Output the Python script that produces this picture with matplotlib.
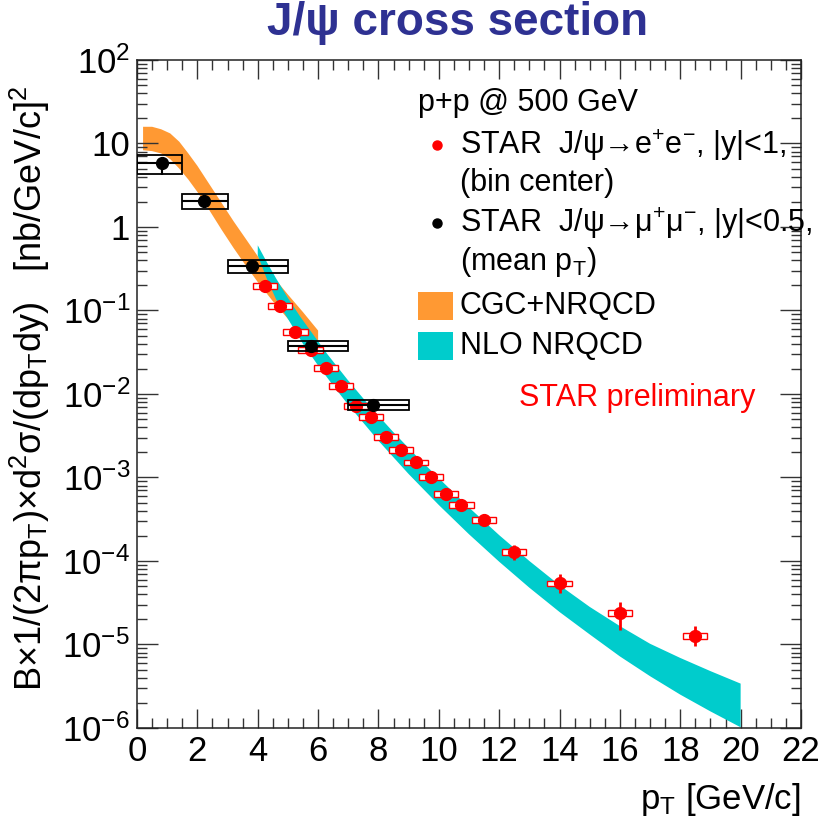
import numpy as np
import matplotlib
matplotlib.use("Agg")
import matplotlib.pyplot as plt
from matplotlib.patches import Rectangle
from matplotlib.ticker import MultipleLocator, LogLocator, NullFormatter, FixedLocator

plt.rcParams['font.family'] = ['Liberation Sans', 'DejaVu Sans']
plt.rcParams['mathtext.fontset'] = 'custom'
plt.rcParams['mathtext.rm'] = 'Liberation Sans'
plt.rcParams['mathtext.it'] = 'Liberation Sans:italic'
plt.rcParams['mathtext.bf'] = 'Liberation Sans:bold'
plt.rcParams['mathtext.default'] = 'rm'

# STAR J/psi -> e+e-, |y|<1 (bin center)
ee_pt = [4.25, 4.75, 5.25, 5.75, 6.25, 6.75, 7.25, 7.75, 8.25, 8.75, 9.25, 9.75,
         10.25, 10.75, 11.5, 12.5, 14.0, 16.0, 18.5]
ee_y = [0.198, 0.113, 0.0557, 0.0337, 0.0207, 0.0126, 0.00718, 0.00535, 0.00308,
        0.00213, 0.00152, 0.00102, 6.3e-4, 4.7e-4, 3.1e-4, 1.29e-4, 5.4e-5, 2.4e-5, 1.26e-5]
ee_stat_lo = [0.06, 0.06, 0.06, 0.06, 0.06, 0.07, 0.07, 0.07, 0.08, 0.08, 0.08, 0.09,
              0.09, 0.10, 0.12, 0.21, 0.23, 0.37, 0.24]
ee_stat_hi = [0.06, 0.06, 0.06, 0.06, 0.06, 0.07, 0.07, 0.07, 0.08, 0.08, 0.08, 0.09,
              0.09, 0.10, 0.12, 0.20, 0.30, 0.36, 0.32]
ee_sys = [0.08] * 19
ee_box_halfwidth = 0.4

# STAR J/psi -> mu+mu-, |y|<0.5 (mean pT)
mm_pt = [0.83, 2.22, 3.82, 5.76, 7.83]
mm_y = [5.8, 2.07, 0.344, 0.0379, 0.00738]
mm_bin_lo = [0.0, 1.5, 3.0, 5.0, 7.0]
mm_bin_hi = [1.5, 3.0, 5.0, 7.0, 9.0]
mm_stat_lo = [0.28, 0.13, 0.15, 0.08, 0.08]
mm_stat_hi = [0.18, 0.13, 0.15, 0.08, 0.08]
mm_sys = [0.25, 0.21, 0.18, 0.14, 0.14]

# CGC+NRQCD band
cgc_x = [0.2, 0.5, 0.8, 1.1, 1.4, 1.7, 2.0, 2.4, 2.8, 3.2, 3.6, 4.0, 4.5, 5.0, 5.5, 6.0]
cgc_hi = [15.85, 15.85, 14.8, 13.2, 10.5, 7.6, 5.4, 3.24, 1.95, 1.17, 0.724, 0.447,
          0.257, 0.155, 0.0955, 0.0575]
cgc_lo = [8.3, 8.1, 7.6, 6.5, 5.0, 3.7, 2.63, 1.58, 0.93, 0.56, 0.347, 0.219,
          0.129, 0.0794, 0.049, 0.0316]

# NLO NRQCD band
nlo_x_hi = [4.0, 4.3, 4.6, 5.0, 5.4, 5.8, 6.3, 7.0, 7.7, 8.5, 9.3, 10.0, 11.0, 12.0,
            13.0, 14.0, 15.0, 16.0, 17.0, 18.0, 19.0, 20.0]
nlo_hi = [0.603, 0.380, 0.245, 0.141, 0.0851, 0.0537, 0.0302, 0.01445, 0.00724,
          0.00347, 0.00174, 9.8e-4, 4.37e-4, 2.04e-4, 1.0e-4, 5.13e-5, 2.82e-5,
          1.66e-5, 1.02e-5, 6.9e-6, 4.8e-6, 3.4e-6]
nlo_x_lo = [4.0, 4.3, 4.6, 5.0, 5.5, 6.0, 6.5, 7.0, 8.0, 9.0, 10.0, 11.0, 12.0, 13.0,
            14.0, 15.0, 16.0, 17.0, 18.0, 19.0, 20.0]
nlo_lo = [0.457, 0.240, 0.138, 0.0794, 0.0398, 0.0219, 0.0126, 0.00741, 0.00275,
          0.0011, 4.68e-4, 2.09e-4, 9.8e-5, 4.79e-5, 2.45e-5, 1.32e-5, 7.2e-6,
          4.17e-6, 2.51e-6, 1.58e-6, 1.02e-6]

y_tick_vals = [1e-6, 1e-5, 1e-4, 1e-3, 1e-2, 1e-1, 1, 10, 100]
y_tick_labels = [r'$10^{-6}$', r'$10^{-5}$', r'$10^{-4}$', r'$10^{-3}$', r'$10^{-2}$',
                 r'$10^{-1}$', '1', '10', r'$10^{2}$']

ORANGE = '#FF9933'
TEAL = '#00CCCC'
TITLE_BLUE = '#2E3192'

fig = plt.figure(figsize=(8.25, 8.32), dpi=100)
ax = fig.add_axes([0.1661, 0.125, 0.8048, 0.8029])
ax.set_yscale('log')
ax.set_xlim(0, 22)
ax.set_ylim(1e-6, 1e2)

# theory bands
ax.fill(cgc_x + cgc_x[::-1], cgc_hi + cgc_lo[::-1], color=ORANGE, lw=0, zorder=1)
ax.fill(nlo_x_hi + nlo_x_lo[::-1], nlo_hi + nlo_lo[::-1], color=TEAL, lw=0, zorder=2)

# e+e- data
for x, y, s in zip(ee_pt, ee_y, ee_sys):
    ax.add_patch(Rectangle((x - ee_box_halfwidth, y * (1 - s)), 2 * ee_box_halfwidth,
                           2 * s * y, fc='white', ec='red', lw=1.0, zorder=3))
ee_y_arr = np.array(ee_y)
ax.errorbar(ee_pt, ee_y, yerr=[ee_y_arr * np.array(ee_stat_lo), ee_y_arr * np.array(ee_stat_hi)],
            fmt='o', color='red', ms=8.5, elinewidth=2, capsize=0, zorder=4)

# mu+mu- data
for x0, x1, y, s in zip(mm_bin_lo, mm_bin_hi, mm_y, mm_sys):
    ax.add_patch(Rectangle((x0, y * (1 - s)), x1 - x0, 2 * s * y,
                           fc='none', ec='black', lw=1.3, zorder=5))
mm_pt_arr = np.array(mm_pt)
mm_y_arr = np.array(mm_y)
ax.errorbar(mm_pt, mm_y,
            xerr=[mm_pt_arr - np.array(mm_bin_lo), np.array(mm_bin_hi) - mm_pt_arr],
            yerr=[mm_y_arr * np.array(mm_stat_lo), mm_y_arr * np.array(mm_stat_hi)],
            fmt='o', color='black', ms=8.5, elinewidth=1.5, capsize=0, zorder=6)

# axes styling
ax.xaxis.set_major_locator(MultipleLocator(2))
ax.xaxis.set_minor_locator(MultipleLocator(0.5))
ax.yaxis.set_major_locator(FixedLocator(y_tick_vals))
ax.set_yticklabels(y_tick_labels)
ax.yaxis.set_minor_locator(LogLocator(base=10, subs=np.arange(2, 10)))
ax.yaxis.set_minor_formatter(NullFormatter())
ax.tick_params(which='both', direction='in', top=True, right=True, color='#333333',
               width=1.0, labelsize=25)
ax.tick_params(axis='x', which='major', length=14, pad=5)
ax.tick_params(axis='x', which='minor', length=7)
ax.tick_params(axis='y', which='major', length=15, pad=5)
ax.tick_params(axis='y', which='minor', length=7)
for sp in ax.spines.values():
    sp.set_linewidth(1.1)
    sp.set_color('#222222')

# legend drawn by hand
tr = ax.transAxes
fs = 22
ax.text(0.423, 0.936, 'p+p @ 500 GeV', transform=tr, fontsize=fs, va='center')
ax.plot([0.452], [0.873], 'o', color='red', ms=6.5, transform=tr, clip_on=False)
ax.text(0.486, 0.873, 'STAR  J/\u03c8\u2192e$^{+}$e$^{-}$, |y|<1,', transform=tr,
        fontsize=fs, va='center')
ax.text(0.486, 0.816, '(bin center)', transform=tr, fontsize=fs, va='center')
ax.plot([0.452], [0.756], 'o', color='black', ms=6.5, transform=tr, clip_on=False)
ax.text(0.486, 0.756, 'STAR  J/\u03c8\u2192\u03bc$^{+}$\u03bc$^{-}$, |y|<0.5,', transform=tr,
        fontsize=fs, va='center')
ax.text(0.486, 0.698, r'(mean p$_{T}$)', transform=tr, fontsize=fs, va='center')
ax.add_patch(Rectangle((0.423, 0.611), 0.053, 0.042, transform=tr, fc=ORANGE, lw=0))
ax.text(0.486, 0.632, 'CGC+NRQCD', transform=tr, fontsize=fs, va='center')
ax.add_patch(Rectangle((0.423, 0.551), 0.053, 0.042, transform=tr, fc=TEAL, lw=0))
ax.text(0.486, 0.572, 'NLO NRQCD', transform=tr, fontsize=fs, va='center')
ax.text(0.575, 0.494, 'STAR preliminary', transform=tr, fontsize=fs, va='center', color='red')

# titles and axis labels
fig.text(0.555, 0.958, 'J/\u03c8 cross section', ha='center', va='baseline', fontsize=33,
         fontweight='bold', color=TITLE_BLUE)
fig.text(0.971, 0.0385, r'p$_{T}$ [GeV/c]', ha='right', va='center', fontsize=25)
fig.text(0.036, 0.533,
         r'B$\times$1/(2$\pi$p$_{T}$)$\times$d$^{2}\sigma$/(dp$_{T}$dy)   [nb/GeV/c]$^{2}$',
         ha='center', va='center', rotation=90, fontsize=26)

fig.savefig('out.png', dpi=100)
